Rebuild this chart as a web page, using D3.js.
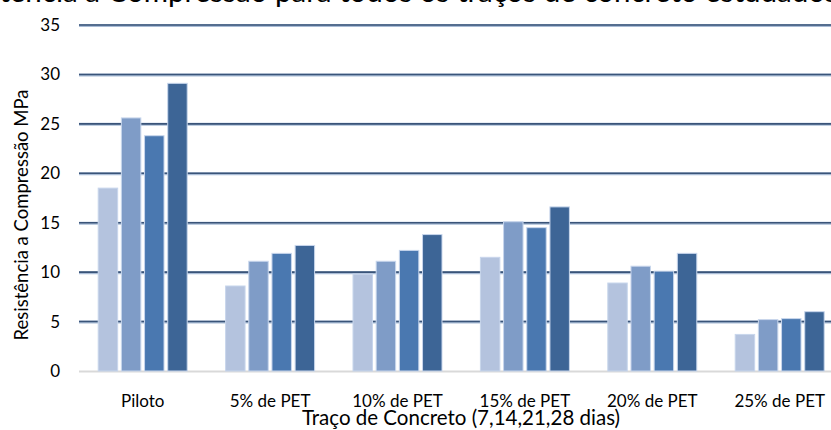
<!DOCTYPE html>
<html>
<head>
<meta charset="utf-8">
<script src="https://cdn.jsdelivr.net/npm/d3@7"></script>
<style>
  body { margin: 0; background: #fff; }
  svg { display: block; }
  text { font-family: Lato, "Open Sans", Arial, sans-serif; }
</style>
</head>
<body>
<div id="chart"></div>
<script>
const width = 831;
const height = 430;

// data
const categories = ["Piloto", "5% de PET", "10% de PET", "15% de PET", "20% de PET", "25% de PET"];
const ages = ["7 dias", "14 dias", "21 dias", "28 dias"];
const dias7  = [18.5, 8.6, 9.8, 11.5, 8.9, 3.7];
const dias14 = [25.6, 11.1, 11.1, 15.1, 10.6, 5.2];
const dias21 = [23.8, 11.9, 12.2, 14.5, 10.1, 5.3];
const dias28 = [29.1, 12.7, 13.8, 16.6, 11.9, 6.0];
const yTicks = [0, 5, 10, 15, 20, 25, 30, 35];
const colors = ["#b4c3de", "#7f9cc7", "#4a78b0", "#3d6596"];

const data = categories.map((c, i) => ({
  cat: c,
  values: [dias7[i], dias14[i], dias21[i], dias28[i]]
}));

const svg = d3.select("#chart")
  .append("svg")
    .attr("width", width)
    .attr("height", height);

/* title, mostly cut off at the top edge */
const title = svg.append("text")
  .attr("y", 1.5)
  .attr("font-size", 22)
  .attr("fill", "#000")
  .text("Gráfico 1 – Resistência à Compressão para todos os traços de concreto estudados");
// line the title up so "Compressão" and "traços" sit where they sit in the picture
{
  const s = title.text();
  const node = title.node();
  const iP = s.indexOf("Compressão") + 3;
  const iC = s.indexOf("ç", s.indexOf("traços"));
  const span = node.getSubStringLength(iP, iC - iP);
  const fs = 22 * 325 / span;
  title.attr("font-size", fs);
  const off = node.getSubStringLength(0, iP);
  title.attr("x", 168 - off);
}

/* scales */
const xScale = d3.scaleBand()
  .domain(categories)
  .range([79, 79 + 6 * 127.4]);

const xInner = d3.scaleBand()
  .domain(ages)
  .range([19.2, 108.2])
  .paddingInner(0.16);

const yScale = d3.scaleLinear()
  .domain([0, 35])
  .range([371, 25]);

/* gridlines */
const grid = svg.append("g");
grid.selectAll("line.glow")
  .data(yTicks.filter(t => t > 0))
  .join("line")
    .attr("class", "glow")
    .attr("x1", 79).attr("x2", width)
    .attr("y1", d => yScale(d) + 0.5).attr("y2", d => yScale(d) + 0.5)
    .attr("stroke", "#a9bcd6")
    .attr("stroke-width", 3);
grid.selectAll("line.main")
  .data(yTicks.filter(t => t > 0))
  .join("line")
    .attr("class", "main")
    .attr("x1", 79).attr("x2", width)
    .attr("y1", d => yScale(d)).attr("y2", d => yScale(d))
    .attr("stroke", "#3a5479")
    .attr("stroke-width", 1.6);

/* zero line */
svg.append("line")
  .attr("x1", 79).attr("x2", width)
  .attr("y1", yScale(0) + 0.5).attr("y2", yScale(0) + 0.5)
  .attr("stroke", "#d9d9d9")
  .attr("stroke-width", 2);

/* bars */
const groups = svg.append("g")
  .selectAll("g")
  .data(data)
  .join("g")
    .attr("transform", d => `translate(${xScale(d.cat)},0)`);

groups.selectAll("rect")
  .data(d => d.values.map((v, j) => ({ age: ages[j], v, j })))
  .join("rect")
    .attr("x", d => xInner(d.age))
    .attr("width", xInner.bandwidth())
    .attr("y", d => yScale(d.v))
    .attr("height", d => yScale(0) - yScale(d.v))
    .attr("fill", d => colors[d.j])
    .attr("stroke", "#c8d6ec")
    .attr("stroke-width", 1);

/* y axis labels */
svg.append("g")
  .selectAll("text")
  .data(yTicks)
  .join("text")
    .attr("x", 60)
    .attr("y", d => yScale(d))
    .attr("dy", "0.35em")
    .attr("text-anchor", "end")
    .attr("font-size", 17)
    .attr("fill", "#000")
    .text(d => d);

/* x axis labels */
svg.append("g")
  .selectAll("text")
  .data(categories)
  .join("text")
    .attr("x", d => xScale(d) + xScale.bandwidth() / 2)
    .attr("y", 407)
    .attr("text-anchor", "middle")
    .attr("font-size", 17)
    .attr("fill", "#000")
    .text(d => d);

/* axis titles */
svg.append("text")
  .attr("x", 461)
  .attr("y", 425)
  .attr("text-anchor", "middle")
  .attr("font-size", 20.5)
  .attr("fill", "#000")
  .text("Traço de Concreto (7,14,21,28 dias)");

svg.append("text")
  .attr("transform", `translate(28,215) rotate(-90)`)
  .attr("text-anchor", "middle")
  .attr("font-size", 18.5)
  .attr("fill", "#000")
  .text("Resistência a Compressão MPa");
</script>
</body>
</html>
